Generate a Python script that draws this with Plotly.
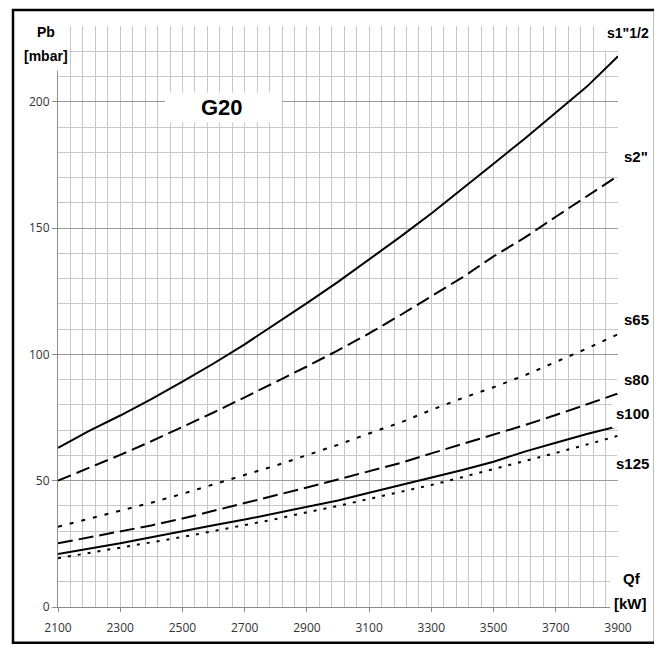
import plotly.graph_objects as go

# ---- data ----
qf_kw = [2100, 2200, 2300, 2400, 2500, 2600, 2700, 2800, 2900, 3000,
         3100, 3200, 3300, 3400, 3500, 3600, 3700, 3800, 3900]
s1_1_2 = [63.0, 69.7, 75.8, 82.3, 89.2, 96.4, 104.0, 112.0, 120.3, 128.7,
          137.6, 146.5, 155.8, 165.5, 175.5, 185.4, 195.8, 206.0, 218.0]
s2 = [50.0, 55.0, 60.2, 65.6, 71.2, 77.0, 83.0, 89.0, 95.2, 101.6,
      108.3, 115.5, 123.0, 130.5, 138.8, 146.2, 154.5, 162.5, 170.7]
s65 = [31.8, 35.0, 38.0, 41.3, 44.8, 48.6, 52.1, 56.0, 60.1, 64.2,
       68.7, 73.0, 78.0, 82.7, 87.0, 91.7, 97.0, 102.3, 108.0]
s80 = [25.2, 27.5, 30.0, 32.3, 35.0, 38.0, 41.0, 44.2, 47.3, 50.5,
       53.8, 57.0, 60.8, 64.5, 68.5, 72.0, 76.0, 80.2, 84.5]
s100 = [21.0, 23.0, 25.2, 27.6, 30.1, 32.4, 34.6, 37.2, 39.6, 42.2,
        45.2, 48.2, 51.1, 54.2, 57.5, 61.5, 65.0, 68.5, 71.6]
s125 = [19.3, 21.3, 23.6, 25.6, 27.7, 30.0, 32.4, 34.8, 37.5, 40.0,
        42.8, 45.5, 48.3, 51.4, 54.5, 57.8, 61.0, 64.3, 67.8]

series_names = ['s1"1/2', 's2"', 's65', 's80', 's100', 's125']
series_vals = [s1_1_2, s2, s65, s80, s100, s125]
series_dash = ['solid', '14px,6px', '4px,8px', '15px,6px', 'solid', '3px,7px']

x_ticks = [2100, 2300, 2500, 2700, 2900, 3100, 3300, 3500, 3700, 3900]
y_ticks = [0, 50, 100, 150, 200]

# ---- layout geometry (page pixels; the page body has an 8px margin) ----
OFF = 8
PAGE_W, PAGE_H = 662, 648
W, H = PAGE_W - OFF, PAGE_H - OFF
L, R, T, B = 58, 618, 26, 610  # plot area in page pixels


def px(x):
    return (x - L) / (R - L)


def py(y):
    return (B - y) / (B - T)


fig = go.Figure()
for name, vals, dash in zip(series_names, series_vals, series_dash):
    fig.add_trace(go.Scatter(x=qf_kw, y=vals, mode='lines', name=name,
                             line=dict(color='black', width=2, dash=dash),
                             showlegend=False, hoverinfo='x+y'))

tick_font = dict(family='Open Sans, sans-serif', size=12, color='#333333')
label_family = 'Liberation Sans, Arial, sans-serif'

fig.update_xaxes(range=[2100, 3900], tickmode='array', tickvals=x_ticks,
                 ticktext=[str(v) for v in x_ticks],
                 showgrid=True, gridcolor='#c8c8c8', gridwidth=1,
                 minor=dict(dtick=40, tick0=2100, showgrid=True,
                            gridcolor='#c8c8c8', gridwidth=1),
                 showline=True, linecolor='#8c8c8c', linewidth=1,
                 ticks='outside', ticklen=4, tickcolor='#8c8c8c',
                 tickfont=tick_font, ticklabelstandoff=6, zeroline=False,
                 fixedrange=True)
fig.update_yaxes(range=[0, 230], tickmode='array', tickvals=y_ticks,
                 ticktext=[str(v) for v in y_ticks],
                 showgrid=True, gridcolor='#9a9a9a', gridwidth=1,
                 minor=dict(dtick=10, tick0=0, showgrid=True,
                            gridcolor='#c8c8c8', gridwidth=1),
                 showline=True, linecolor='#8c8c8c', linewidth=1,
                 ticks='outside', ticklen=5, tickcolor='#8c8c8c',
                 tickfont=tick_font, zeroline=False, fixedrange=True)

shapes = []


def white_box(x0, y0, x1, y1):
    shapes.append(dict(type='rect', xref='paper', yref='paper',
                       x0=px(x0), x1=px(x1), y0=py(y1), y1=py(y0),
                       fillcolor='white', line=dict(width=0), layer='above'))


white_box(14, 11, 69, 71)      # Pb [mbar]
white_box(165, 93, 282, 123)   # G20
white_box(600, 11, 654, 51)    # s1"1/2
white_box(608, 146, 654, 172)  # s2"
white_box(617, 313, 654, 330)  # s65
white_box(617, 372, 654, 396)  # s80
white_box(612, 401, 654, 430)  # s100
white_box(617, 455, 654, 478)  # s125
white_box(610, 572, 654, 621)  # Qf [kW]

# outer frame
shapes.append(dict(type='rect', xref='paper', yref='paper',
                   x0=px(13), x1=px(655), y0=py(646), y1=py(10),
                   line=dict(color='black', width=2.5), fillcolor='rgba(0,0,0,0)',
                   layer='above'))

annotations = []


def label(text, x, y, size=15):
    annotations.append(dict(text='<b>%s</b>' % text, xref='paper', yref='paper',
                            x=px(x), y=py(y), xanchor='center', yanchor='middle',
                            showarrow=False,
                            font=dict(family=label_family, size=size,
                                      color='black')))


label('Pb', 46, 32, 14)
label('[mbar]', 46, 56, 14)
label('G20', 222, 108, 22)
label('s1"1/2', 628, 33, 14)
label('s2"', 636, 157, 15)
label('s65', 636, 321, 15)
label('s80', 636, 381, 15)
label('s100', 632, 416, 15)
label('s125', 632, 466, 15)
label('Qf', 632, 581, 15)
label('[kW]', 630, 606, 15)

fig.update_layout(width=W, height=H, autosize=False,
                  margin=dict(l=L - OFF, r=PAGE_W - R, t=T - OFF, b=PAGE_H - B, pad=0),
                  paper_bgcolor='white', plot_bgcolor='white',
                  shapes=shapes, annotations=annotations, showlegend=False)

fig.write_html('out.html')
